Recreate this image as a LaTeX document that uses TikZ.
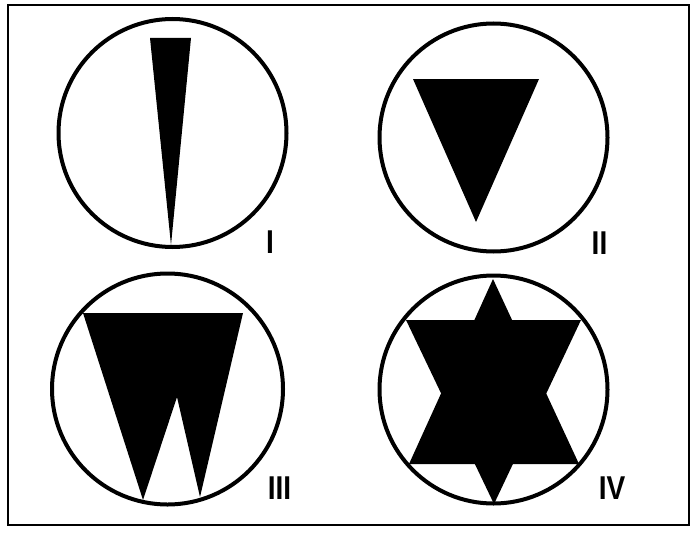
\documentclass[tikz,border=0pt]{standalone}
\usepackage{fontspec}
\setmainfont{Liberation Sans}
\usetikzlibrary{positioning}

\begin{document}
\begin{tikzpicture}[
				x=1pt, y=-1pt,
				font=\bfseries\fontsize{33}{33}\selectfont,
				ring/.style={
					circle, draw=black, line width=4pt,
					minimum size=228pt, inner sep=0pt
				},
				solid shape/.style={fill=black, draw=none},
				tag/.style={inner sep=0pt, anchor=center, xscale=0.85}
				]
				
				% Page and frame
				\useasboundingbox (0,0) rectangle (692,535);
				\coordinate (frameTL) at (8,5.5);
				\coordinate (frameBR) at (689,525);
				\draw[line width=2pt] (frameTL) rectangle (frameBR);
				
				% Rings
				\node[ring] (ringI)   at (172.5,133) {};
				\node[ring] (ringII)  at (493.5,137.5) {};
				\node[ring, minimum size=231pt] (ringIII) at (167.5,389) {};
				\node[ring] (ringIV)  at (493.5,389.5) {};
				
				% I: thin wedge
				\fill[solid shape] (150,38) -- (191,38) -- (171,245) -- cycle;
				
				% II: triangle
				\fill[solid shape] (413,79) -- (539,79) -- (476,222) -- cycle;
				
				% III: double spike
				\fill[solid shape] (83,313) -- (243,313) -- (200,497) -- (177,397)
					-- (143,500) -- cycle;
				
				% IV: star
				\fill[solid shape] (493,279) -- (579,464) -- (409,464) -- cycle;
				\fill[solid shape] (406,320) -- (581,320) -- (494,504) -- cycle;
				
				% Labels
				\node[tag] (tagI)   at (270,242.5) {I};
				\node[tag] (tagII)  at (599.5,243) {II};
				\node[tag] (tagIII) at (279.5,488.5) {III};
				\node[tag] (tagIV)  at (612,488.5) {IV};
				
\end{tikzpicture}
\end{document}
